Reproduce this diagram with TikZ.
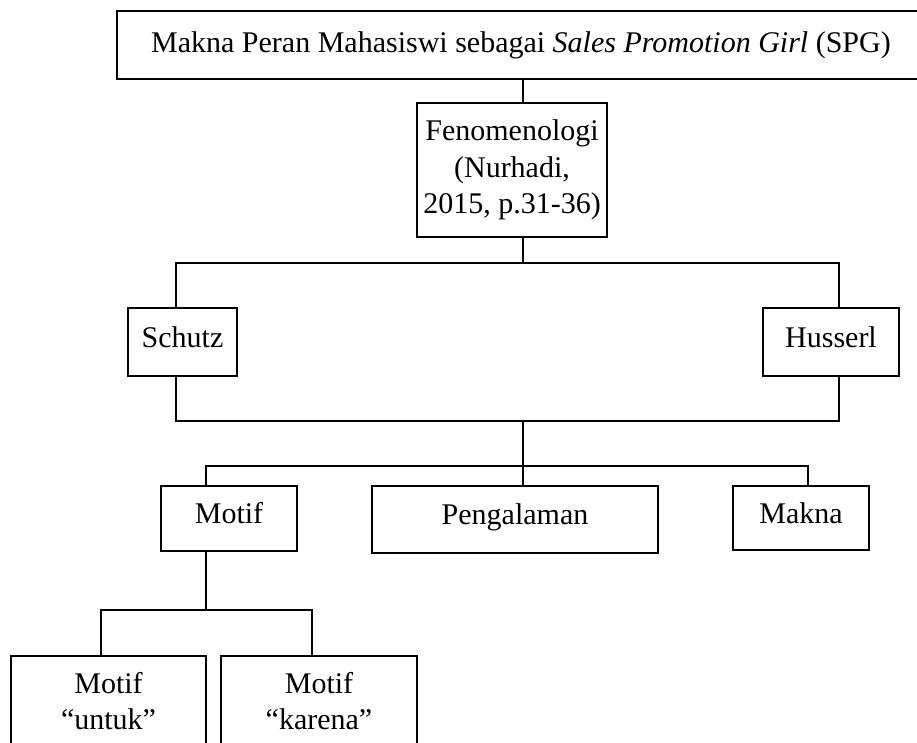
\documentclass[tikz,border=0pt]{standalone}
\usepackage{fontspec}
\setmainfont{Liberation Serif}
\begin{document}
\begin{tikzpicture}[x=1pt,y=-1pt,
  box/.style={draw, line width=1.6pt, fill=white, inner sep=0pt, align=center,
    font=\fontsize{30}{36.5}\selectfont},
  one/.style={text height=20pt, text depth=10pt},
  conn/.style={line width=1.6pt, line join=miter}]
\useasboundingbox (0,0) rectangle (917,743);
% boxes
\node[box, minimum width=808pt, minimum height=68pt] (title) at (521,45)
  {Makna Peran Mahasiswi sebagai \textit{Sales Promotion Girl} (SPG)};
\node[box, minimum width=190pt, minimum height=134pt] (feno) at (512,170)
  {Fenomenologi\\(Nurhadi,\\2015, p.31-36)};
\node[box, one, minimum width=109pt, minimum height=68pt] (schutz) at (182.5,342) {Schutz};
\node[box, one, minimum width=136pt, minimum height=68pt] (husserl) at (831,342) {Husserl};
\node[box, one, minimum width=136pt, minimum height=65pt] (motif) at (229,518.5) {Motif};
\node[box, one, minimum width=286pt, minimum height=67pt] (pengalaman) at (515,519.5) {Pengalaman};
\node[box, one, minimum width=136pt, minimum height=64pt] (makna) at (801,518) {Makna};
\node[box, minimum width=195pt, minimum height=90pt] (untuk) at (108.5,701) {Motif\\“untuk”};
\node[box, minimum width=196pt, minimum height=90pt] (karena) at (319,701) {Motif\\“karena”};
% junctions
\coordinate (cx) at (523,0);
\coordinate (jTop) at (523,263);
\coordinate (jTL) at (176,263);
\coordinate (jTR) at (839,263);
\coordinate (jBL) at (176,421);
\coordinate (jBR) at (839,421);
\coordinate (jB) at (523,421);
\coordinate (jML) at (206,466);
\coordinate (jMR) at (808,466);
\coordinate (jL) at (206,610);
\coordinate (jLL) at (101,610);
\coordinate (jLR) at (312,610);
% connectors
\draw[conn] (title.south -| cx) -- (feno.north -| cx);
\draw[conn] (feno.south -| cx) -- (jTop);
\draw[conn] (schutz.north -| jTL) -- (jTL) -- (jTR) -- (husserl.north -| jTR);
\draw[conn] (schutz.south -| jBL) -- (jBL) -- (jBR) -- (husserl.south -| jBR);
\draw[conn] (jB) -- (pengalaman.north -| jB);
\draw[conn] (motif.north -| jML) -- (jML) -- (jMR) -- (makna.north -| jMR);
\draw[conn] (motif.south -| jL) -- (jL);
\draw[conn] (untuk.north -| jLL) -- (jLL) -- (jLR) -- (karena.north -| jLR);
\end{tikzpicture}
\end{document}
